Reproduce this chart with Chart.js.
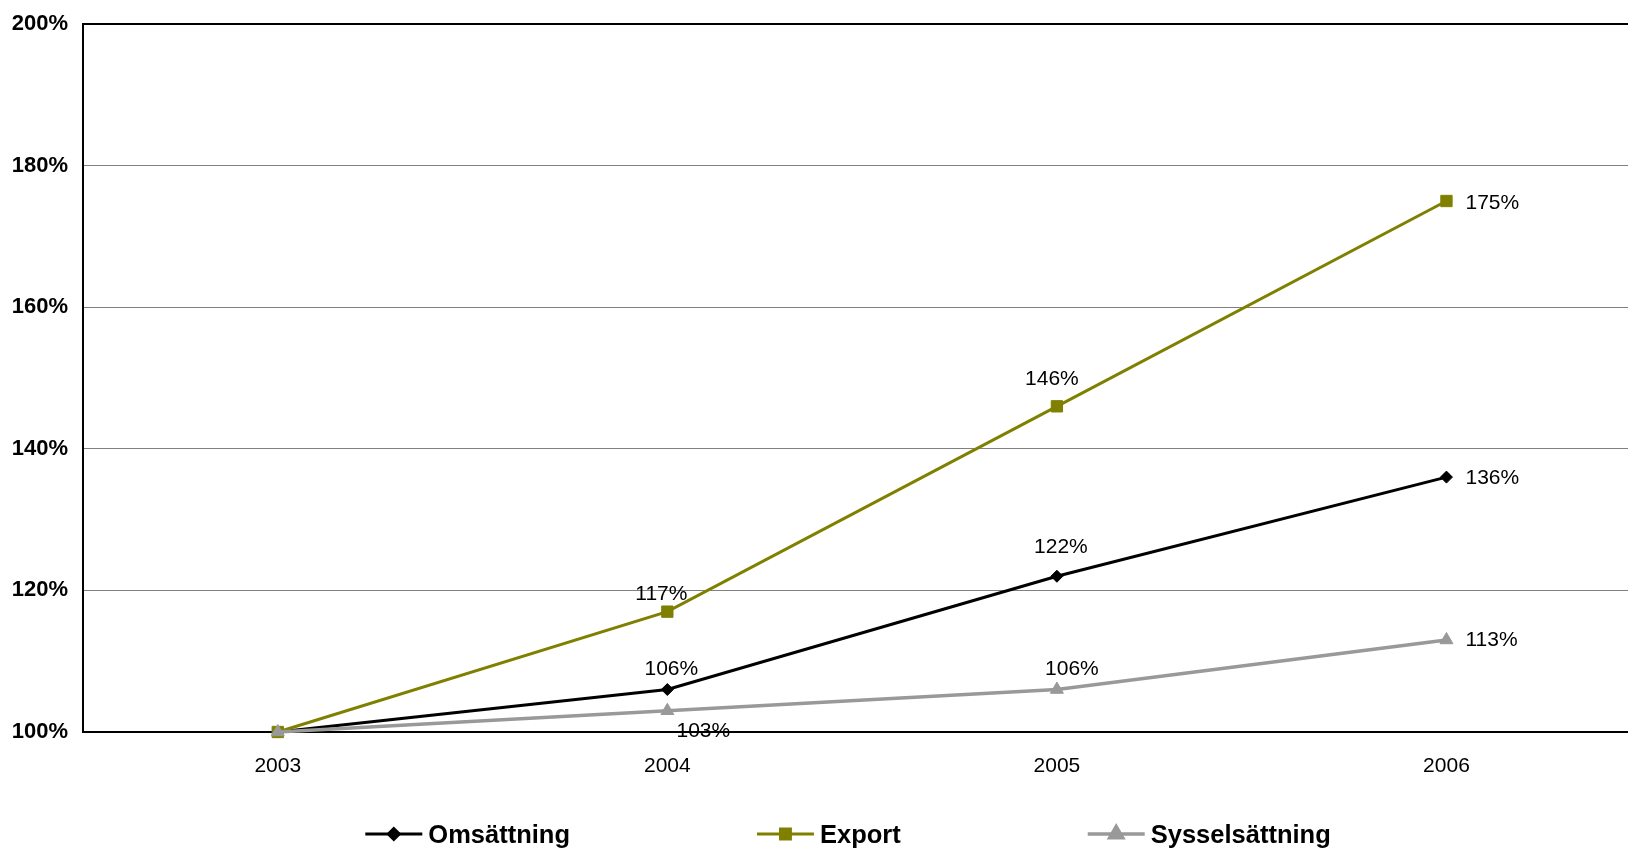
<!DOCTYPE html>
<html>
<head>
<meta charset="utf-8">
<script src="https://cdn.jsdelivr.net/npm/chart.js@4.4.0/dist/chart.umd.min.js"></script>
<style>
  html, body { margin: 0; padding: 0; background: #fff; }
  #wrap { width: 1628px; height: 849px; position: relative; }
</style>
</head>
<body>
<div id="wrap"><canvas id="growthChart"></canvas></div>
<script>
/* ── data ── */
const years       = [2003, 2004, 2005, 2006];
const omsattning  = [100, 106, 122, 136];
const exportVals  = [100, 117, 146, 175];
const syssel      = [100, 103, 106, 113];
const yTicks      = [100, 120, 140, 160, 180, 200];
const seriesNames = ['Omsättning', 'Export', 'Sysselsättning'];

/* label nudges from the point, px: [dx, dy, align] (null = no label) */
const labelNudge = [
  [null, [4, -22, 'center'],  [4, -31, 'center'],  [19, -1, 'left']],
  [null, [-6, -19, 'center'], [-5, -29, 'center'], [19, 0, 'left']],
  [null, [36, 19, 'center'],  [15, -22, 'center'], [19, -1, 'left']]
];

const FONT  = '"Liberation Sans", Arial, sans-serif';
const OLIVE = '#808000';
const GREY  = '#999999';

const toXY = vals => years.map((yr, i) => ({ x: yr, y: vals[i] }));

/* value labels next to points */
const pointLabels = {
  id: 'pointLabels',
  afterDatasetsDraw(chart) {
    const ctx = chart.ctx;
    ctx.save();
    ctx.font = '21px ' + FONT;
    ctx.fillStyle = '#000';
    ctx.textBaseline = 'alphabetic';
    chart.data.datasets.forEach((ds, i) => {
      const meta = chart.getDatasetMeta(i);
      meta.data.forEach((pt, j) => {
        const n = labelNudge[i][j];
        if (!n) return;
        ctx.textAlign = n[2];
        ctx.fillText(ds.data[j].y + '%', pt.x + n[0], pt.y + n[1] + 7.5);
      });
    });
    ctx.restore();
  }
};

/* legend: line + marker + bold text, in one row */
const lineLegend = {
  id: 'lineLegend',
  afterDraw(chart) {
    const ctx = chart.ctx;
    const lineLen = 57, textGap = 6, itemGap = 187, cy = 834;
    const sizes = [5.5, 7, 7.5];
    ctx.save();
    ctx.font = 'bold 25.5px ' + FONT;
    const items = chart.data.datasets.map(ds => ({ ds, w: lineLen + textGap + ctx.measureText(ds.label).width }));
    const total = items.reduce((s, it) => s + it.w, 0) + itemGap * (items.length - 1);
    let x = chart.width / 2 + 34 - total / 2;
    items.forEach((it, k) => {
      const ds = it.ds;
      ctx.strokeStyle = ds.borderColor;
      ctx.lineWidth = ds.borderWidth;
      ctx.beginPath();
      ctx.moveTo(x, cy);
      ctx.lineTo(x + lineLen, cy);
      ctx.stroke();
      ctx.fillStyle = ds.pointBackgroundColor;
      ctx.strokeStyle = ds.pointBorderColor;
      Chart.helpers.drawPoint(ctx, { pointStyle: ds.pointStyle, radius: sizes[k], borderWidth: 1, rotation: 0 }, x + lineLen / 2, cy);
      ctx.fillStyle = '#000';
      ctx.textAlign = 'left';
      ctx.textBaseline = 'alphabetic';
      ctx.fillText(ds.label, x + lineLen + textGap, cy + 0.358 * 25.5);
      x += it.w + itemGap;
    });
    ctx.restore();
  }
};

const ctx = document.getElementById('growthChart').getContext('2d');
new Chart(ctx, {
  type: 'line',
  data: {
    datasets: [
      { label: seriesNames[0], data: toXY(omsattning), borderColor: '#000', backgroundColor: '#000',
        pointBackgroundColor: '#000', pointBorderColor: '#000', pointStyle: 'rectRot', pointRadius: 6,
        borderWidth: 3, pointBorderWidth: 1, order: 3, clip: false },
      { label: seriesNames[1], data: toXY(exportVals), borderColor: OLIVE, backgroundColor: OLIVE,
        pointBackgroundColor: OLIVE, pointBorderColor: OLIVE, pointStyle: 'rect', pointRadius: 8,
        borderWidth: 3, pointBorderWidth: 1, order: 2, clip: false },
      { label: seriesNames[2], data: toXY(syssel), borderColor: GREY, backgroundColor: GREY,
        pointBackgroundColor: GREY, pointBorderColor: GREY, pointStyle: 'triangle', pointRadius: 7.5,
        borderWidth: 3.5, pointBorderWidth: 1, order: 1, clip: false }
    ]
  },
  options: {
    responsive: true,
    maintainAspectRatio: false,
    animation: false,
    devicePixelRatio: 1,
    layout: { autoPadding: false, padding: { top: 24, right: 0, bottom: 0, left: 0 } },
    plugins: { legend: { display: false }, tooltip: { enabled: false } },
    scales: {
      x: {
        type: 'linear',
        min: 2002.5,
        max: 2006.466,
        afterBuildTicks: s => { s.ticks = years.map(v => ({ value: v })); },
        afterFit: s => { s.height = 117; s.paddingLeft = 0; s.paddingRight = 0; },
        grid: { display: false, drawTicks: false },
        border: { display: true, color: '#000', width: 2 },
        ticks: { color: '#000', font: { family: FONT, size: 21 }, padding: 22, maxRotation: 0, callback: v => String(v) }
      },
      y: {
        min: 100,
        max: 200,
        afterBuildTicks: s => { s.ticks = yTicks.map(v => ({ value: v })); },
        afterFit: s => { s.width = 83; s.paddingTop = 0; s.paddingBottom = 0; },
        grid: {
          drawTicks: false,
          color: c => (c.tick && (c.tick.value === 200 || c.tick.value === 100)) ? '#000' : '#808080',
          lineWidth: c => (c.tick && (c.tick.value === 200 || c.tick.value === 100)) ? 2 : 1
        },
        border: { display: true, color: '#000', width: 2 },
        ticks: { color: '#000', font: { family: FONT, size: 22, weight: 'bold' }, padding: 15, callback: v => v + '%' }
      }
    }
  },
  plugins: [pointLabels, lineLegend]
});
</script>
</body>
</html>
